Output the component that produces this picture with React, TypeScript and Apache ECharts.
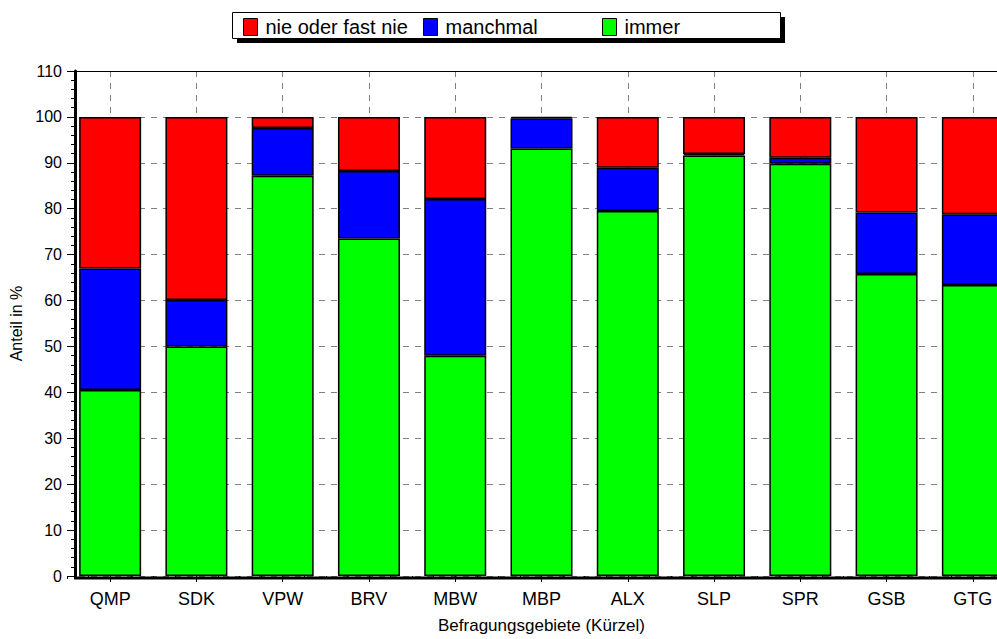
import React, { useEffect, useRef } from 'react';
import * as echarts from 'echarts';

const categories = ['QMP', 'SDK', 'VPW', 'BRV', 'MBW', 'MBP', 'ALX', 'SLP', 'SPR', 'GSB', 'GTG'];
const immer = [40.5, 50, 87.2, 73.5, 48, 93.1, 79.5, 91.6, 89.8, 65.8, 63.4];
const manchmal = [26.5, 10.1, 10.4, 14.7, 34.1, 6.6, 9.4, 0.3, 1.3, 13.4, 15.4];
const nieOderFastNie = [33, 39.9, 2.4, 11.8, 17.9, 0.3, 11.1, 8.1, 8.9, 20.8, 21.2];

const seriesNames = ['nie oder fast nie', 'manchmal', 'immer'];
const legendLefts = [243, 423, 602];
const yTickValues = { min: 0, max: 110, interval: 10 };
// quarter-band helper categories for minor x ticks
const quarterTicks = categories.flatMap((c) => [c, c, c, c]);

const FONT = "'Liberation Sans', Arial, sans-serif";

export default function App() {
  const ref = useRef<HTMLDivElement>(null);
  useEffect(() => {
    const chart = echarts.init(ref.current!, null, { renderer: 'svg' });
    const barStyle = (color: string) => ({ color, borderColor: '#000', borderWidth: 1.5 });
    chart.setOption({
      animation: false,
      backgroundColor: '#fff',
      textStyle: { fontFamily: FONT, color: '#000' },
      legend: seriesNames.map((n, i) => ({
        data: [n],
        left: legendLefts[i],
        top: 17,
        z: 10,
        icon: 'rect',
        itemWidth: 14,
        itemHeight: 17,
        padding: 0,
        itemStyle: { borderWidth: 1, borderColor: '#000' },
        textStyle: { fontSize: 20, color: '#000', fontFamily: FONT, padding: [0, 0, 0, 3] },
        selectedMode: false,
      })),
      grid: { left: 67, top: 71, width: 949, height: 507, containLabel: false },
      xAxis: [
        {
          type: 'category',
          data: categories,
          axisLine: { show: false },
          axisTick: { show: true, alignWithLabel: true, length: 6, lineStyle: { color: '#000', width: 1 } },
          axisLabel: { fontSize: 18, color: '#000', margin: 14, fontFamily: FONT },
          splitLine: { show: true, alignWithLabel: true, lineStyle: { color: '#808080', type: [6, 6], width: 1 } },
          name: 'Befragungsgebiete (Kürzel)',
          nameLocation: 'middle',
          nameGap: 41,
          nameTextStyle: { fontSize: 17, color: '#000', fontFamily: FONT },
        },
        {
          type: 'category',
          data: quarterTicks,
          position: 'bottom',
          axisLine: { show: false },
          axisTick: { show: true, interval: 0, length: 3, lineStyle: { color: '#000', width: 1 } },
          axisLabel: { show: false },
          splitLine: { show: false },
        },
      ],
      yAxis: {
        type: 'value',
        min: yTickValues.min,
        max: yTickValues.max,
        interval: yTickValues.interval,
        offset: -8,
        axisLine: { show: true, lineStyle: { color: '#000', width: 3 } },
        axisTick: { show: true, length: 8, lineStyle: { color: '#000', width: 1 } },
        minorTick: { show: true, splitNumber: 5, length: 4, lineStyle: { color: '#000', width: 1 } },
        axisLabel: { fontSize: 16, color: '#000', margin: 13, fontFamily: FONT },
        splitLine: { show: true, lineStyle: { color: '#808080', type: [6, 6], width: 1 } },
        name: 'Anteil in %',
        nameLocation: 'middle',
        nameRotate: 90,
        nameGap: 50,
        nameTextStyle: { fontSize: 16, color: '#000', fontFamily: FONT },
      },
      series: [
        { name: 'immer', type: 'bar', stack: 'total', barWidth: 62, data: immer, itemStyle: barStyle('#00ff00') },
        { name: 'manchmal', type: 'bar', stack: 'total', barWidth: 62, data: manchmal, itemStyle: barStyle('#0000ff') },
        { name: 'nie oder fast nie', type: 'bar', stack: 'total', barWidth: 62, data: nieOderFastNie, itemStyle: barStyle('#ff0000') },
      ],
      graphic: [
        { type: 'rect', z: 1, shape: { x: 237, y: 17, width: 548, height: 26 }, style: { fill: '#000' } },
        { type: 'rect', z: 2, shape: { x: 232.5, y: 12.5, width: 548, height: 26 }, style: { fill: '#fff', stroke: '#000', lineWidth: 1 } },
        { type: 'line', z: 100, shape: { x1: 75, y1: 71.5, x2: 1040, y2: 71.5 }, style: { stroke: '#000', lineWidth: 1 } },
        { type: 'line', z: 100, shape: { x1: 74, y1: 578, x2: 1040, y2: 578 }, style: { stroke: '#000', lineWidth: 3 } },
      ],
    });
    return () => chart.dispose();
  }, []);
  return (
    <div style={{ position: 'fixed', left: 0, top: 0, width: 997, height: 639, overflow: 'hidden', background: '#fff' }}>
      <div ref={ref} style={{ width: 1040, height: 639 }} />
    </div>
  );
}
